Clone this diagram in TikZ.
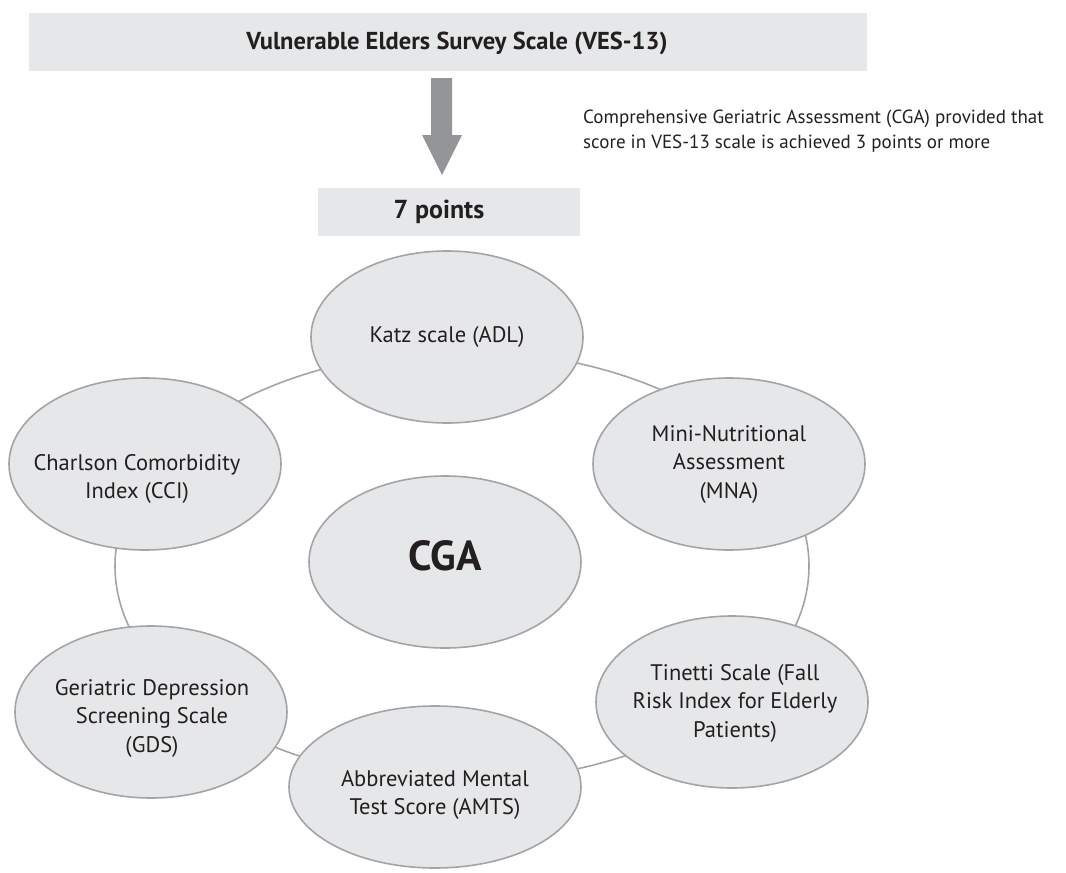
\documentclass[tikz,border=0pt]{standalone}
\usepackage{fontspec}
\setmainfont{PT Sans}
\usetikzlibrary{shapes.geometric}
\definecolor{boxfill}{HTML}{E6E7E8}
\definecolor{edgegray}{HTML}{A2A4A7}
\definecolor{arrowgray}{HTML}{939598}
\definecolor{txt}{HTML}{231F20}
\tikzset{
  oval/.style={ellipse, draw=edgegray, line width=1.6pt, fill=boxfill, minimum width=272pt, minimum height=172pt, inner sep=0pt},
  ovaltext/.style={align=center, text=txt, font=\fontsize{22.5}{28.5}\selectfont, inner sep=0pt},
  band/.style={fill=boxfill, draw=none, inner sep=0pt, text=txt}
}
\begin{document}
\begin{tikzpicture}[x=1pt,y=-1pt]
\useasboundingbox (0,0) rectangle (1066,873);
% header boxes
\node[band, minimum width=838pt, minimum height=58pt] (ves) at (448,42) {};
\node[text=txt, font=\bfseries\fontsize{24.5}{28}\selectfont, inner sep=0pt] (vest) at (457,43) {Vulnerable Elders Survey Scale (VES-13)};
\node[band, minimum width=262pt, minimum height=48pt] (pts) at (449,212) {};
\node[text=txt, font=\bfseries\fontsize{26}{30}\selectfont, inner sep=0pt] (ptst) at (439,212) {7 points};
% arrow
\fill[arrowgray] (431,78) -- (452,78) -- (452,135) -- (462,135) -- (442,175) -- (422,135) -- (431,135) -- cycle;
\node[anchor=west, align=left, text=txt, font=\fontsize{19}{25}\selectfont, inner sep=0pt] (cond) at (583,131) {Comprehensive Geriatric Assessment (CGA) provided that\\score in VES-13 scale is achieved 3 points or more};
% ring
\draw[edgegray, line width=1.6pt] (462,566) ellipse [x radius=347, y radius=215];
% ovals
\node[oval] (katz) at (447,337) {};
\node[oval] (mna) at (729,464) {};
\node[oval] (cci) at (145,464) {};
\node[oval] (cga) at (445,562) {};
\node[oval] (gds) at (151,712) {};
\node[oval] (tin) at (732,702) {};
\node[oval, minimum width=292pt, minimum height=162pt] (amts) at (435,787) {};
% texts
\node[ovaltext] (katzt) at (447,337) {Katz scale (ADL)};
\node[ovaltext] (mnat) at (729,464) {Mini-Nutritional\\Assessment\\(MNA)};
\node[ovaltext] (ccit) at (137,479) {Charlson Comorbidity\\Index (CCI)};
\node[ovaltext, font=\bfseries\fontsize{42}{48}\selectfont] (cgat) at (445,556) {CGA};
\node[ovaltext] (gdst) at (152,718) {Geriatric Depression\\Screening Scale\\(GDS)};
\node[ovaltext] (tint) at (735,703) {Tinetti Scale (Fall\\Risk Index for Elderly\\Patients)};
\node[ovaltext] (amtst) at (435,795) {Abbreviated Mental\\Test Score (AMTS)};
\end{tikzpicture}
\end{document}
